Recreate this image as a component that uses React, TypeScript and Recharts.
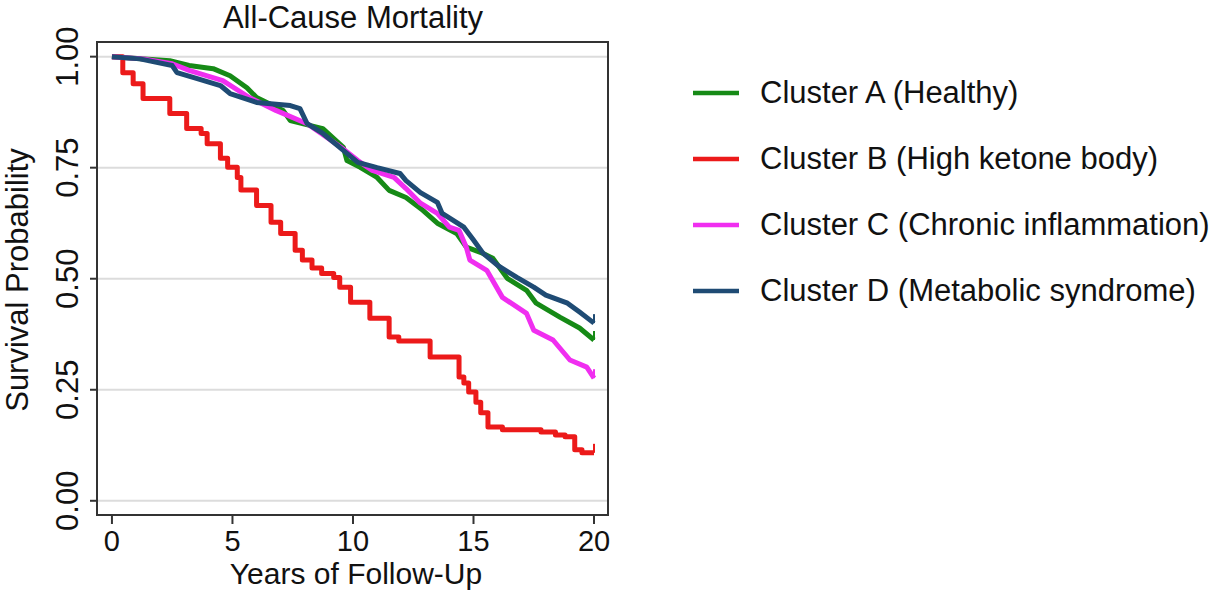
import React from 'react';
import { LineChart, Line, XAxis, YAxis, CartesianGrid, Legend } from 'recharts';

// Kaplan-Meier survival curves
const timesA = [0, 2.4, 3.2, 4.2, 4.9, 5.6, 6.0, 7.1, 7.4, 8.75, 9.6, 9.75, 10.3, 11.0, 11.5, 12.2, 12.9, 13.5, 14.3, 14.7, 15.4, 15.8, 16.4, 17.2, 17.6, 18.6, 19.4, 20];
const survA = [1.0, 0.991, 0.98, 0.973, 0.957, 0.93, 0.908, 0.879, 0.856, 0.838, 0.796, 0.766, 0.751, 0.728, 0.699, 0.683, 0.654, 0.625, 0.602, 0.571, 0.557, 0.546, 0.501, 0.474, 0.445, 0.413, 0.389, 0.362];

const timesB = [0, 0.45, 0.88, 1.29, 2.4, 3.1, 3.7, 3.95, 4.5, 4.8, 5.2, 5.35, 6.0, 6.6, 7.0, 7.6, 7.9, 8.3, 8.7, 9.2, 9.45, 9.9, 10.7, 11.5, 11.9, 13.2, 14.4, 14.6, 14.8, 15.1, 15.3, 15.6, 16.2, 17.8, 18.4, 18.8, 19.2, 19.5, 20];
const survB = [1.0, 0.964, 0.939, 0.906, 0.872, 0.838, 0.827, 0.804, 0.771, 0.751, 0.728, 0.7, 0.665, 0.627, 0.602, 0.564, 0.542, 0.524, 0.512, 0.503, 0.481, 0.447, 0.411, 0.369, 0.36, 0.324, 0.279, 0.265, 0.245, 0.222, 0.198, 0.166, 0.16, 0.155, 0.148, 0.144, 0.115, 0.108, 0.108];

const timesC = [0, 1.3, 2.5, 3.2, 4.6, 5.7, 6.8, 8.1, 9.5, 10.2, 10.8, 11.7, 12.2, 12.8, 13.5, 14.0, 14.4, 14.7, 14.85, 15.55, 16.2, 17.2, 17.5, 18.3, 19.0, 19.7, 20];
const survC = [1.0, 0.995, 0.984, 0.969, 0.946, 0.908, 0.879, 0.849, 0.796, 0.766, 0.744, 0.728, 0.703, 0.67, 0.647, 0.616, 0.609, 0.571, 0.542, 0.519, 0.458, 0.422, 0.384, 0.362, 0.317, 0.301, 0.276];

const timesD = [0, 1.16, 2.5, 2.7, 3.4, 4.5, 4.9, 6.0, 7.4, 7.8, 8.1, 8.75, 9.6, 10.2, 11.0, 11.95, 12.2, 12.8, 13.5, 13.7, 14.6, 15.0, 15.4, 16.0, 16.8, 17.5, 18.0, 18.9, 19.4, 20];
const survD = [1.0, 0.995, 0.98, 0.964, 0.953, 0.935, 0.917, 0.897, 0.89, 0.883, 0.849, 0.827, 0.789, 0.762, 0.75, 0.737, 0.721, 0.694, 0.672, 0.647, 0.616, 0.587, 0.557, 0.53, 0.503, 0.481, 0.463, 0.445, 0.425, 0.4];

const xTicks = [0, 5, 10, 15, 20];
const yTicks = [0, 0.25, 0.5, 0.75, 1];

const FONT = 'Liberation Sans, Arial, sans-serif';
const LEGEND_W = 540;

const series = [
  { key: 'a', name: 'Cluster A (Healthy)', color: '#168a16', times: timesA, surv: survA, step: false },
  { key: 'b', name: 'Cluster B (High ketone body)', color: '#ec1a1a', times: timesB, surv: survB, step: true },
  { key: 'c', name: 'Cluster C (Chronic inflammation)', color: '#f02ef0', times: timesC, surv: survC, step: false },
  { key: 'd', name: 'Cluster D (Metabolic syndrome)', color: '#1f4b74', times: timesD, surv: survD, step: false },
];

// one table over the union of all event times, gaps bridged with connectNulls
const allTimes = Array.from(new Set(series.flatMap((s) => s.times))).sort((x, y) => x - y);
const chartData = allTimes.map((t) => {
  const row: Record<string, number | null> = { t };
  series.forEach((s) => {
    const i = s.times.indexOf(t);
    row[s.key] = i >= 0 ? s.surv[i] : null;
  });
  return row;
});
const lastIndex = chartData.length - 1;

// little censor tick at the end of each curve
const endTick = (color: string) => (props: any) => {
  if (props.index !== lastIndex || props.cy == null) return <g key={props.index} />;
  return (
    <line
      key={props.index}
      x1={props.cx}
      x2={props.cx}
      y1={props.cy}
      y2={props.cy - 9}
      stroke={color}
      strokeWidth={2}
    />
  );
};

const YTick = (props: any) => {
  const { y, payload } = props;
  const bx = 78;
  return (
    <text
      x={bx}
      y={y}
      transform={`rotate(-90, ${bx}, ${y})`}
      textAnchor="middle"
      fontSize={31}
      fontFamily={FONT}
      fill="#111"
    >
      {Number(payload.value).toFixed(2)}
    </text>
  );
};

const XTick = (props: any) => {
  const { x, y, payload } = props;
  return (
    <text x={x} y={y + 25} textAnchor="middle" fontSize={29} fontFamily={FONT} fill="#111">
      {payload.value}
    </text>
  );
};

const LegendContent = (props: any) => {
  const items = props.payload || [];
  return (
    <div style={{ fontFamily: FONT, fontSize: 31, color: '#111' }}>
      {items.map((item: any) => (
        <div key={item.value} style={{ display: 'flex', alignItems: 'center', height: 66 }}>
          <svg width={46} height={8} style={{ marginRight: 21 }}>
            <line x1={0} x2={46} y1={4} y2={4} stroke={item.color} strokeWidth={4.5} />
          </svg>
          <span style={{ whiteSpace: 'nowrap' }}>{item.value}</span>
        </div>
      ))}
    </div>
  );
};

export default function App() {
  return (
    <div style={{ position: 'absolute', left: 0, top: 0, width: 1229, height: 590, background: '#fff' }}>
      <div
        style={{
          position: 'absolute',
          left: 0,
          width: 706,
          top: 0,
          textAlign: 'center',
          fontFamily: FONT,
          fontSize: 31,
          lineHeight: '36px',
          color: '#111',
        }}
      >
        All-Cause Mortality
      </div>
      {/* the vertical legend on the right adds its width to the right offset */}
      <LineChart
        width={1229}
        height={590}
        data={chartData}
        margin={{ top: 42, right: 621 - LEGEND_W, left: 0, bottom: 0 }}
      >
        <CartesianGrid vertical={false} stroke="#dcdcdc" strokeWidth={2} />
        <XAxis
          dataKey="t"
          type="number"
          domain={[-0.62, 20.58]}
          ticks={xTicks}
          allowDataOverflow
          height={75}
          tickSize={9}
          axisLine={{ stroke: '#333', strokeWidth: 2 }}
          tickLine={{ stroke: '#333', strokeWidth: 2 }}
          tick={<XTick />}
          label={{
            content: () => (
              <text x={356} y={584} textAnchor="middle" fontSize={30} fontFamily={FONT} fill="#111">
                Years of Follow-Up
              </text>
            ),
          }}
        />
        <YAxis
          type="number"
          domain={[-0.032, 1.033]}
          ticks={yTicks}
          allowDataOverflow
          width={97}
          tickSize={7}
          axisLine={{ stroke: '#333', strokeWidth: 2 }}
          tickLine={{ stroke: '#333', strokeWidth: 2 }}
          tick={<YTick />}
          label={{
            content: () => (
              <text
                x={28}
                y={280}
                transform="rotate(-90, 28, 280)"
                textAnchor="middle"
                fontSize={31}
                fontFamily={FONT}
                fill="#111"
              >
                Survival Probability
              </text>
            ),
          }}
        />
        <Legend
          layout="vertical"
          verticalAlign="top"
          align="right"
          content={<LegendContent />}
          wrapperStyle={{ left: 693, top: 60, width: LEGEND_W }}
        />
        {series.map((s) => (
          <Line
            key={s.key}
            name={s.name}
            dataKey={s.key}
            type={s.step ? 'stepAfter' : 'linear'}
            connectNulls
            stroke={s.color}
            strokeWidth={5}
            strokeLinejoin="round"
            dot={endTick(s.color)}
            activeDot={false}
            isAnimationActive={false}
          />
        ))}
      </LineChart>
      <div
        style={{
          position: 'absolute',
          left: 96,
          top: 41,
          width: 513,
          height: 475,
          border: '2px solid #333',
          boxSizing: 'border-box',
          pointerEvents: 'none',
        }}
      />
    </div>
  );
}
